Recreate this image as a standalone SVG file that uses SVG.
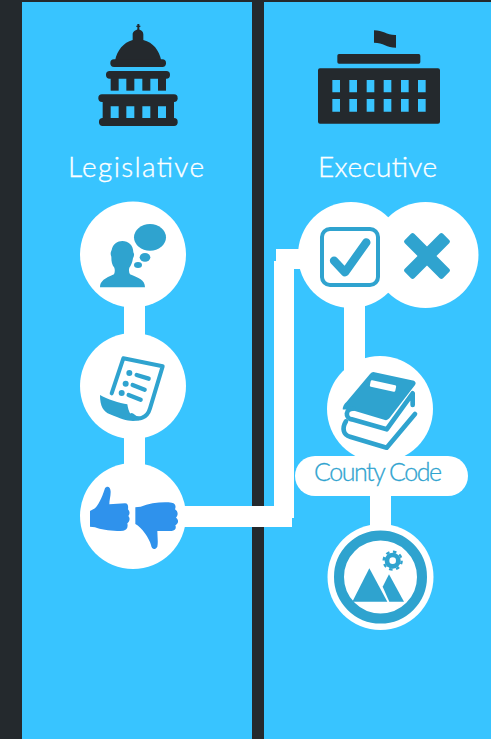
<svg xmlns="http://www.w3.org/2000/svg" width="491" height="739" viewBox="0 0 491 739">
<style>
.panel{fill:#38c4ff}
.w{fill:#fff}
.d{fill:#24292d}
.b{fill:#2fa3cf}
.t{fill:#2f92ec}
.s{fill:none;stroke:#2fa3cf;stroke-linecap:round;stroke-linejoin:round}
.h{font-family:"Lato","Open Sans",sans-serif;font-weight:300;font-size:28px;fill:#fff;stroke:#fff;stroke-width:.35px}
.c{font-family:"Lato","Open Sans",sans-serif;font-weight:300;font-size:25px;fill:#2fa3cf;stroke:#2fa3cf;stroke-width:.3px}
</style>
<rect width="491" height="739" fill="#24292d"/>
<rect class="panel" x="22" y="2" width="230" height="737"/>
<rect class="panel" x="264" y="2" width="227" height="737"/>
<g id="connectors" class="w">
<rect x="124" y="300" width="21" height="40"/>
<rect x="124" y="432" width="21" height="40"/>
<rect x="180" y="506" width="112" height="21"/>
<rect x="274" y="261" width="20" height="257"/>
<rect x="276" y="249" width="30" height="20"/>
<rect x="344" y="300" width="21" height="76"/>
<rect x="370" y="490" width="21" height="45"/>
</g>
<g id="legislative-header">
<g transform="translate(60 0) scale(.33333)" class="d">
<rect x="232" y="72" width="6" height="20"/><rect x="229" y="77" width="12" height="4"/>
<path d="M218 120V103C218 95 226 90 235 88C244 90 250 95 250 103V120C280 128 297 150 304 182H165C172 150 190 128 218 120Z"/>
<rect x="151" y="178" width="167" height="23" rx="11"/>
<rect x="138" y="213" width="192" height="23" rx="11"/>
<rect x="152" y="230" width="24" height="42"/><rect x="199" y="230" width="24" height="42"/><rect x="247" y="230" width="24" height="42"/><rect x="294" y="230" width="24" height="42"/>
<rect x="115" y="283" width="238" height="23" rx="11"/>
<path fill-rule="evenodd" d="M128 300H342V360H128ZM152 319V354H176V319ZM199 319V354H223V319ZM247 319V354H271V319ZM294 319V354H318V319Z"/>
<rect x="117" y="354" width="236" height="24" rx="11"/>
</g>
<text class="h" x="68" y="177" textLength="136" lengthAdjust="spacing">Legislative</text>
</g>
<g id="executive-header">
<g transform="translate(290 0) scale(.33333)" class="d">
<path d="M252 91C280 91 290 106 318 105V143C290 143 280 128 252 128Z"/>
<rect x="142" y="162" width="249" height="29" rx="5"/>
<path fill-rule="evenodd" d="M90 205H444Q450 205 450 211V365Q450 371 444 371H90Q84 371 84 365V211Q84 205 90 205ZM127 240V277H150V240ZM178 240V277H201V240ZM230 240V277H253V240ZM281 240V277H304V240ZM333 240V277H356V240ZM384 240V277H407V240ZM127 297V335H150V297ZM178 297V335H201V297ZM230 297V335H253V297ZM281 297V335H304V297ZM333 297V335H356V297ZM384 297V335H407V297Z"/>
</g>
<text class="h" x="318" y="177" textLength="119" lengthAdjust="spacing">Executive</text>
</g>
<g id="node-discussion">
<circle class="w" cx="133" cy="254.500" r="53"/>
<g transform="translate(70 195) scale(.33333)" class="b">
<ellipse cx="240" cy="127" rx="48" ry="40"/>
<ellipse cx="225" cy="187" rx="16" ry="13"/>
<ellipse cx="204" cy="210" rx="12" ry="9"/>
<path d="M90 277C90 258 105 250 132 238C135 232 135 225 133 218C126 210 124 200 124 185C120 175 123 170 125 165C128 147 143 138 157 138C175 138 190 150 190 172C194 178 192 185 189 190C187 203 183 212 178 218C176 225 177 232 180 238C205 248 225 255 225 277Z"/>
</g>
</g>
<g id="node-draft">
<circle class="w" cx="133" cy="386" r="53"/>
<g transform="translate(70 195) scale(.33333)">
<path class="s" stroke-width="12" d="M125 595L160 490L278 514L240 640C232 668 205 680 185 660"/>
<path class="b" d="M90 600C110 612 150 625 172 628C175 650 185 672 208 676C180 682 160 675 120 658C100 650 90 635 90 600Z"/>
<circle class="b" cx="178" cy="534" r="9"/><circle class="b" cx="167" cy="566" r="9"/><circle class="b" cx="155" cy="594" r="9"/>
<path class="s" stroke-width="13" d="M200 540L236 551M188 570L224 584M176 600L212 614"/>
</g>
</g>
<g id="node-vote">
<circle class="w" cx="133" cy="516" r="53"/>
<g transform="translate(70 450) scale(.33333)" class="t">
<path d="M60 183L75 175C90 160 100 130 105 115C112 105 122 112 122 125C122 140 118 150 118 163L165 160C175 160 175 170 174 178C180 185 180 192 175 198C182 205 178 215 172 220C175 232 170 240 160 242C130 245 95 240 75 232L60 230Z"/>
<path d="M196 172L212 170C240 158 280 155 305 158C318 160 318 170 315 178C325 185 325 195 318 203C328 210 325 222 316 226C320 235 315 243 305 243L262 243C262 260 265 275 262 290C255 302 245 298 243 285C238 265 215 232 196 222Z"/>
</g>
</g>
<g id="node-veto">
<circle class="w" cx="425.500" cy="255" r="53"/>
<g transform="translate(265 195) scale(.33333)" class="b">
<rect x="405" y="163" width="162" height="40" rx="7" transform="rotate(45 486 183)"/>
<rect x="405" y="163" width="162" height="40" rx="7" transform="rotate(-45 486 183)"/>
</g>
</g>
<g id="node-approve">
<circle class="w" cx="351" cy="255" r="53"/>
<g transform="translate(265 195) scale(.33333)">
<rect class="s" x="171" y="102" width="168" height="168" rx="24" stroke-width="12"/>
<path class="s" stroke-width="25" d="M207 197L240 232L304 142"/>
</g>
</g>
<g id="node-county-code">
<circle class="w" cx="380" cy="409" r="53"/>
<g transform="translate(290 350) scale(.33333)">
<path class="b" d="M250 66L372 92Q380 97 375 105L298 205Q292 212 285 210L185 180C170 176 162 180 158 178C158 170 162 162 170 155L240 72Q245 66 250 66Z"/>
<rect x="240" y="98" width="78" height="20" rx="4" fill="#fff" transform="rotate(12 279 108)"/>
<path class="s" stroke-width="14" d="M190 176C165 175 165 205 185 208L290 238L368 130V165"/>
<path class="s" stroke-width="14" d="M168 214C155 235 160 255 180 260L290 293L375 192"/>
</g>
<rect class="w" x="295" y="456" width="173" height="40" rx="20"/>
<text class="c" x="314" y="481" textLength="128" lengthAdjust="spacing">County Code</text>
</g>
<g id="node-image">
<circle class="w" cx="380.500" cy="577" r="53"/>
<circle cx="380.500" cy="577" r="41.500" fill="none" stroke="#2fa3cf" stroke-width="10"/>
<g transform="translate(320 490) scale(.33333)" class="b">
<circle cx="218" cy="212" r="24"/>
<circle cx="218" cy="212" r="27" fill="none" stroke="#2fa3cf" stroke-width="7" stroke-dasharray="10.600 10.600"/>
<circle cx="218" cy="212" r="10" fill="#fff"/>
<path d="M148 235L97 335H202Z"/>
<path d="M207 253L188 290L208 335H252Z"/>
</g>
</g>
</svg>
